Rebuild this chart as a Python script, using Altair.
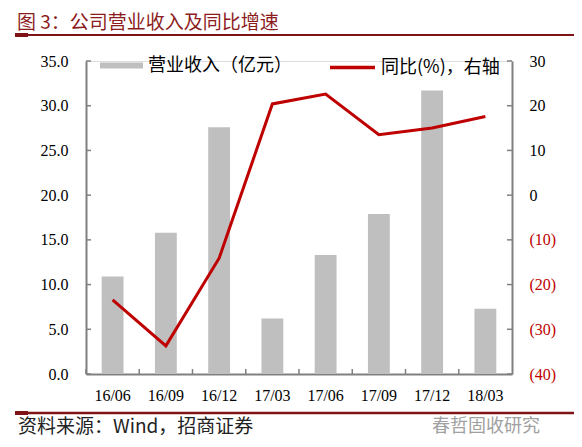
import altair as alt
import pandas as pd

# ---- data ----
periods = ["16/06", "16/09", "16/12", "17/03", "17/06", "17/09", "17/12", "18/03"]
revenue = [10.9, 15.8, 27.6, 6.2, 13.3, 17.9, 31.7, 7.3]
yoy = [-23.4, -33.7, -14.1, 20.4, 22.6, 13.5, 15.0, 17.6]
left_ticks = [0, 5, 10, 15, 20, 25, 30, 35]
right_ticks = [-40, -30, -20, -10, 0, 10, 20, 30]
bar_name = "营业收入（亿元）"
line_name = "同比(%)，右轴"
title_text = "图 3：公司营业收入及同比增速"
source_text = "资料来源：Wind，招商证券"
mark_text = "春哲固收研究"

W, H = 426, 313
SERIF = "Liberation Serif"
CJK = "Noto Sans CJK SC"
GRAY = "#808080"
RED = "#BE0000"
DARKRED = "#7E1416"

df = pd.DataFrame({"period": periods, "revenue": revenue, "yoy": yoy})
df["s1"] = bar_name
df["s2"] = line_name
lt = pd.DataFrame({"v": left_ticks})
rt = pd.DataFrame({"v": right_ticks})
one = pd.DataFrame({"t": [0]})

xscale = alt.Scale(domain=periods, paddingInner=0, paddingOuter=0)
xaxis = alt.Axis(title=None, labelAngle=0, ticks=False, grid=False,
                 domainColor=GRAY, domainWidth=2, labelPadding=13,
                 labelFont=SERIF, labelFontSize=16, labelColor="black")


def xenc(**kw):
    return alt.X("period:N", scale=xscale, sort=periods, axis=xaxis, **kw)


laxis = alt.Axis(title=None, values=left_ticks, format=".1f", ticks=False, grid=False,
                 domainColor=GRAY, domainWidth=2, labelPadding=18,
                 labelFont=SERIF, labelFontSize=16, labelColor="black", orient="left")
lscale = alt.Scale(domain=[0, 35], nice=False, zero=True)

raxis = alt.Axis(title=None, values=right_ticks, ticks=False, grid=False, orient="right",
                 domainColor=GRAY, domainWidth=2, labelPadding=17,
                 labelFont=SERIF, labelFontSize=16,
                 labelExpr="datum.value < 0 ? '(' + format(-datum.value, 'd') + ')' : format(datum.value, 'd')",
                 labelColor={"condition": {"test": "datum.value < 0", "value": RED}, "value": "black"})
rscale = alt.Scale(domain=[-40, 30], nice=False, zero=False)

bars = alt.Chart(df).mark_bar(width=alt.RelativeBandSize(0.41)).encode(
    x=xenc(),
    y=alt.Y("revenue:Q", scale=lscale, axis=laxis),
    color=alt.Color("s1:N", scale=alt.Scale(range=["#BFBFBF"]),
                    legend=alt.Legend(title=None, orient="none", legendX=14, legendY=-17,
                                      symbolType="M-1,-0.14L1,-0.14L1,0.14L-1,0.14Z",
                                      symbolSize=1849, symbolStrokeWidth=0,
                                      labelFont=CJK, labelFontSize=18, labelColor="black",
                                      labelOffset=5, padding=0)),
)

lticks = alt.Chart(lt).mark_rule(color=GRAY, strokeWidth=1.5).encode(
    y=alt.Y("v:Q", scale=lscale, axis=laxis),
    x=alt.value(0), x2=alt.value(5),
)

xticks = alt.Chart(df).mark_rule(color=GRAY, strokeWidth=1.5).encode(
    x=xenc(bandPosition=0),
    y=alt.value(H), y2=alt.value(H - 5),
)

left_group = alt.layer(bars, lticks, xticks)

line = alt.Chart(df).mark_line(strokeWidth=3).encode(
    x=xenc(),
    y=alt.Y("yoy:Q", scale=rscale, axis=raxis),
    stroke=alt.Stroke("s2:N", scale=alt.Scale(range=[RED]),
                      legend=alt.Legend(title=None, orient="none", legendX=242, legendY=-18,
                                        symbolType="stroke", symbolSize=2025,
                                        symbolStrokeWidth=3.5,
                                        labelFont=CJK, labelFontSize=18, labelColor="black",
                                        labelOffset=4, padding=0)),
)

rticks = alt.Chart(rt).mark_rule(color=GRAY, strokeWidth=1.5).encode(
    y=alt.Y("v:Q", scale=rscale, axis=raxis),
    x=alt.value(W - 5), x2=alt.value(W),
)

right_group = alt.layer(line, rticks)

# decorations
ttl = alt.Chart(one).mark_text(align="left", baseline="middle", font=CJK, fontSize=19,
                               color="#8C1C1C", text=title_text).encode(
    x=alt.value(-69), y=alt.value(-38))
top_rule = alt.Chart(one).mark_rule(color=DARKRED, strokeWidth=2).encode(
    x=alt.value(-71), x2=alt.value(488), y=alt.value(-26))
top_rule_thick = alt.Chart(one).mark_rule(color=DARKRED, strokeWidth=4).encode(
    x=alt.value(-71), x2=alt.value(-58), y=alt.value(-26))
bot_rule = alt.Chart(one).mark_rule(color=DARKRED, strokeWidth=2.5).encode(
    x=alt.value(-71), x2=alt.value(488), y=alt.value(352))
bot_rule_thick = alt.Chart(one).mark_rule(color=DARKRED, strokeWidth=4).encode(
    x=alt.value(-71), x2=alt.value(-58), y=alt.value(352))
src = alt.Chart(one).mark_text(align="left", baseline="middle", font=CJK, fontSize=19,
                               color="#222222", text=source_text).encode(
    x=alt.value(-68), y=alt.value(366))
wm = alt.Chart(one).mark_text(align="left", baseline="middle", font=CJK, fontSize=18,
                              color="#A0A0A0", text=mark_text).encode(
    x=alt.value(346), y=alt.value(366))

chart = alt.layer(left_group, right_group, ttl, top_rule, top_rule_thick, bot_rule, bot_rule_thick, src, wm).resolve_scale(
    y="independent"
).properties(
    width=W, height=H,
    autosize=alt.AutoSizeParams(type="none"),
    padding={"left": 78, "top": 53, "right": 62, "bottom": 65},
).configure_view(stroke=None).configure(background="white")

chart.save("out.html", embed_options={"renderer": "svg", "actions": False})
